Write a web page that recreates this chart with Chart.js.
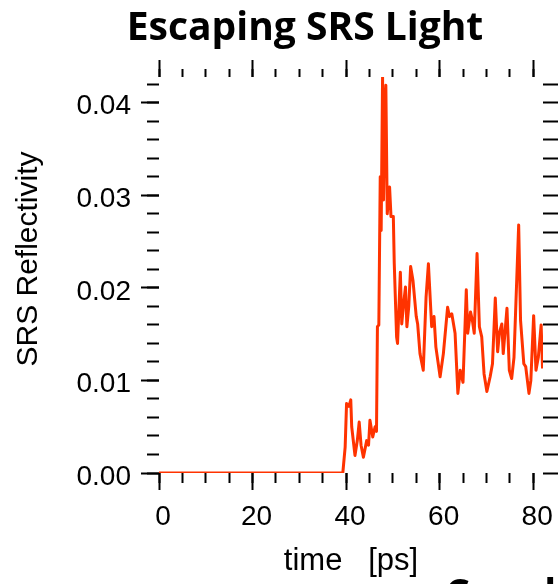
<!DOCTYPE html>
<html>
<head>
<meta charset="utf-8">
<script src="https://cdn.jsdelivr.net/npm/chart.js@4/dist/chart.umd.min.js"></script>
<style>
  body { margin: 0; background: #fff; }
  #wrap { width: 558px; height: 584px; }
</style>
</head>
<body>
<div id="wrap"><canvas id="srs-chart" width="558" height="584"></canvas></div>
<script>
// escaping SRS light vs time
var timePs = [
  0, 39.3, 39.8, 40.1, 40.6, 41.0, 41.2, 41.9, 42.4, 42.8, 43.2, 43.7, 44.4, 44.8,
  45.1, 45.7, 46.2, 46.5, 46.7, 47.0, 47.3, 47.5, 47.8, 48.0, 48.3, 48.5, 48.8,
  49.3, 49.6, 50.1, 50.3, 50.8, 51.0, 51.6, 51.9, 52.3, 52.7, 53.0, 53.4, 53.8,
  54.3, 55.0, 55.3, 55.8, 56.5, 57.1, 57.6, 58.3, 58.8, 59.2, 60.1, 60.8, 61.7,
  62.1, 62.6, 63.3, 63.9, 64.4, 65.0, 65.7, 66.0, 66.6, 67.0, 67.4, 68.0, 68.5,
  69.0, 69.5, 70.1, 70.8, 71.3, 71.9, 72.4, 72.8, 73.3, 73.6, 74.4, 74.9, 75.4,
  75.9, 76.9, 77.3, 78.0, 78.4, 79.1, 79.5, 80.1, 80.6, 81.1, 81.7, 82.0
];
var reflectivity = [
  0, 0, 0.0028, 0.0075, 0.0072, 0.0079, 0.0050, 0.0019, 0.0035, 0.0055, 0.0030, 0.0017, 0.0035, 0.0030,
  0.0057, 0.0039, 0.0050, 0.0045, 0.0158, 0.0160, 0.0320, 0.0262, 0.0428, 0.0295, 0.0400, 0.0419, 0.0280,
  0.0309, 0.0277, 0.0277, 0.0226, 0.0147, 0.0140, 0.0217, 0.0161, 0.0183, 0.0201, 0.0158, 0.0180, 0.0223,
  0.0208, 0.0169, 0.0161, 0.0129, 0.0111, 0.0190, 0.0226, 0.0158, 0.0169, 0.0136, 0.0104, 0.0129, 0.0179,
  0.0169, 0.0172, 0.0151, 0.0086, 0.0111, 0.0098, 0.0198, 0.0151, 0.0174, 0.0165, 0.0151, 0.0237, 0.0158,
  0.0147, 0.0107, 0.0088, 0.0104, 0.0118, 0.0189, 0.0131, 0.0152, 0.0161, 0.0129, 0.0178, 0.0111, 0.0102,
  0.0125, 0.0268, 0.0165, 0.0118, 0.0115, 0.0086, 0.0100, 0.0170, 0.0111, 0.0125, 0.0160, 0.0113
];

var xRange = [0, 82.1];
var yRange = [0, 0.04278];
var xMajorStep = 20, xMinorStep = 5;
var yMajorStep = 0.01, yMinorStep = 0.002;

var chartTitle = 'Escaping SRS Light';
var nextTitle = 'Coupling';
var xTitle = 'time   [ps]';
var yTitle = 'SRS Reflectivity';

var points = timePs.map(function (t, i) { return {x: t, y: reflectivity[i]}; });

var tickFont = {family: 'Liberation Sans', size: 28};
var axisTitleFont = {family: 'Liberation Sans', size: 31, lineHeight: 1};

// pin an axis box to a fixed size so the plot frame lands where we want it
function fixSize(size) {
  return function (scale) {
    if (scale.isHorizontal()) {
      scale.height = size;
    } else {
      scale.width = size;
    }
    scale.paddingLeft = 0;
    scale.paddingRight = 0;
    scale.paddingTop = 0;
    scale.paddingBottom = 0;
  };
}

// one set of tick marks on one side of the frame
function tickAxis(position, range, step, length, size, weight) {
  return {
    type: 'linear',
    position: position,
    weight: weight,
    min: range[0],
    max: range[1],
    border: {display: false},
    grid: {
      drawOnChartArea: false,
      drawTicks: true,
      tickLength: length,
      tickWidth: 2,
      tickColor: '#000'
    },
    ticks: {
      display: false,
      stepSize: step,
      includeBounds: false,
      autoSkip: false
    },
    afterFit: fixSize(size)
  };
}

var xAxis = tickAxis('bottom', xRange, xMajorStep, 17, 111, 1);
xAxis.ticks = {
  display: true,
  stepSize: xMajorStep,
  includeBounds: false,
  autoSkip: false,
  maxRotation: 0,
  padding: 10,
  labelOffset: 4,
  color: '#000',
  font: tickFont,
  callback: function (v) { return String(v); }
};
xAxis.title = {display: true, text: xTitle, color: '#000', font: axisTitleFont, padding: {top: 0, bottom: 7}};

var yAxis = tickAxis('left', yRange, yMajorStep, 18, 159, 1);
yAxis.ticks = {
  display: true,
  stepSize: yMajorStep,
  includeBounds: false,
  autoSkip: false,
  padding: 10,
  labelOffset: 4,
  color: '#000',
  font: tickFont,
  callback: function (v) { return v.toFixed(2); }
};

// chart heading, the y title (sits a little above the frame centre) and the
// start of the next panel's heading peeking in at the bottom edge
var headings = {
  id: 'headings',
  afterDraw: function (chart) {
    var ctx = chart.ctx;
    ctx.save();
    ctx.fillStyle = '#000';
    ctx.font = '700 39px "Open Sans"';
    ctx.textBaseline = 'alphabetic';
    ctx.textAlign = 'center';
    ctx.fillText(chartTitle, 305, 40);
    ctx.textAlign = 'left';
    ctx.fillText(nextTitle, 445, 607);

    ctx.font = '30px "Liberation Sans"';
    ctx.textAlign = 'center';
    ctx.translate(37, 259);
    ctx.rotate(-Math.PI / 2);
    ctx.fillText(yTitle, 0, 0);
    ctx.restore();
  }
};

new Chart(document.getElementById('srs-chart'), {
  type: 'line',
  data: {
    datasets: [{
      data: points,
      borderColor: '#ff3300',
      borderWidth: 3,
      borderJoinStyle: 'round',
      pointRadius: 0,
      tension: 0,
      fill: false
    }]
  },
  options: {
    responsive: false,
    animation: false,
    devicePixelRatio: 1,
    layout: {padding: 0},
    plugins: {
      legend: {display: false},
      title: {display: false},
      tooltip: {enabled: false}
    },
    scales: {
      x: xAxis,
      xMinor: tickAxis('bottom', xRange, xMinorStep, 10, 0, 0),
      xTop: tickAxis('top', xRange, xMajorStep, 17, 77, 1),
      xTopMinor: tickAxis('top', xRange, xMinorStep, 8, 0, 0),
      y: yAxis,
      yMinor: tickAxis('left', yRange, yMinorStep, 12, 0, 0),
      yRight: tickAxis('right', yRange, yMinorStep, 16, 15, 0)
    }
  },
  plugins: [headings]
});
</script>
</body>
</html>
